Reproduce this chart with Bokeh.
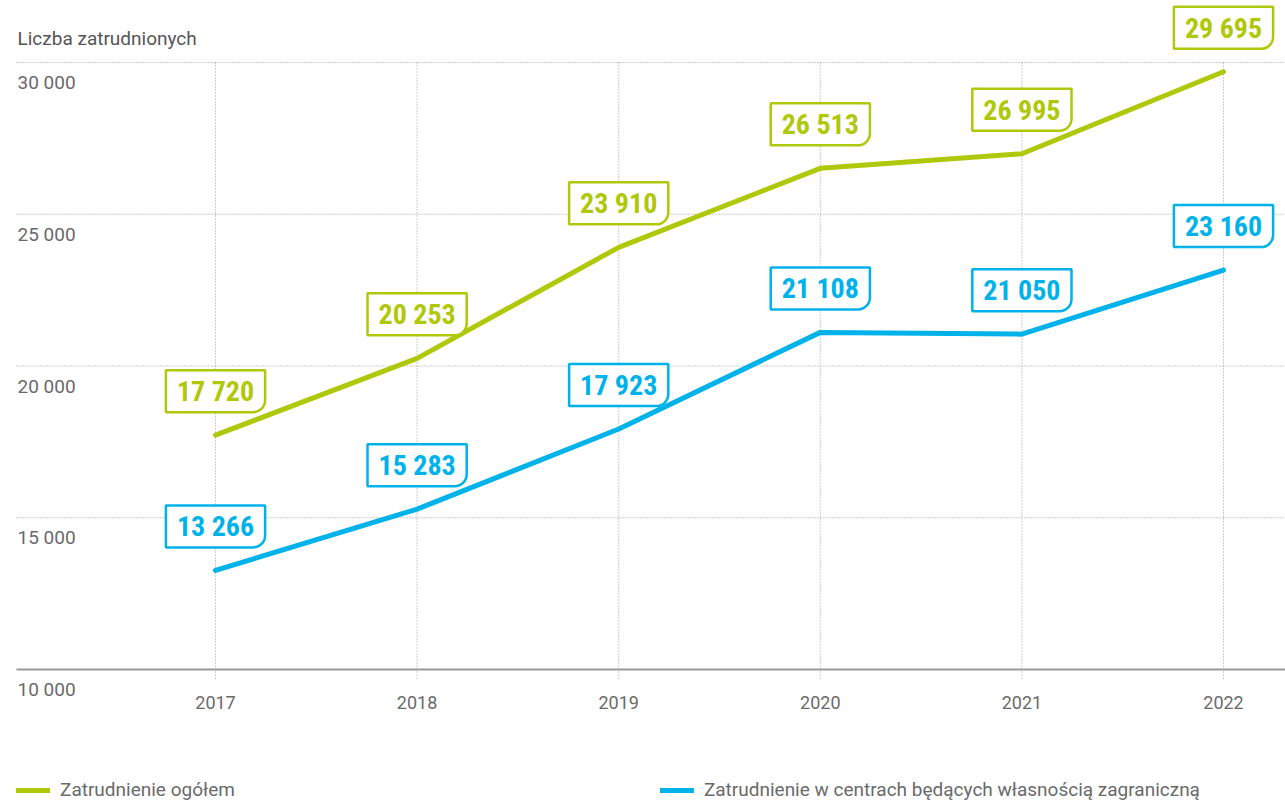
from bokeh.plotting import figure
from bokeh.models import Range1d, Legend, LegendItem, ColumnDataSource
from bokeh.core.properties import value
from bokeh.embed import file_html
from bokeh.resources import INLINE

# ---- data ----
years = [2017, 2018, 2019, 2020, 2021, 2022]
total = [17720, 20253, 23910, 26513, 26995, 29695]
foreign = [13266, 15283, 17923, 21108, 21050, 23160]
y_ticks = [10000, 15000, 20000, 25000, 30000]
y_tick_labels = ["10 000", "15 000", "20 000", "25 000", "30 000"]
x_tick_labels = ["2017", "2018", "2019", "2020", "2021", "2022"]
series_names = ["Zatrudnienie ogółem",
                "Zatrudnienie w centrach będących własnością zagraniczną"]
axis_title = "Liczba zatrudnionych"

GREEN = "#afc80a"
BLUE = "#00b2ea"
GRAY_TXT = "#6a6a6a"
GRID = "#9a9a9a"
AXIS_FONT = value("Roboto")
BOX_FONT = value("'Roboto Condensed', 'DejaVu Sans Condensed', 'Liberation Sans Narrow', sans-serif")

def fmt(v):
    return f"{v:,}".replace(",", " ")

W, H = 1285, 801
x0, x1 = 2015.9335, 2022.3075
y0, y1 = 5651, 32043

p = figure(width=W, height=H, output_backend="svg", toolbar_location=None,
           x_range=Range1d(x0, x1), y_range=Range1d(y0, y1),
           min_border=0, min_border_left=0, min_border_right=0,
           min_border_top=0, min_border_bottom=0)
p.axis.visible = False
p.grid.visible = False
p.outline_line_color = None
p.background_fill_color = "white"
p.border_fill_color = "white"

x_left = 2017 - 199 / 201.6  # left edge of the gridlines
x_right = x1

# horizontal dotted gridlines
p.segment(x0=[x_left] * 4, y0=y_ticks[1:], x1=[x_right] * 4, y1=y_ticks[1:],
          line_color=GRID, line_width=1, line_dash="1 2")
# vertical dotted gridlines
v_bottom = y_ticks[0] - 11 * 32.95
p.segment(x0=years, y0=[y_ticks[-1]] * len(years), x1=years, y1=[v_bottom] * len(years),
          line_color=GRID, line_width=1, line_dash="1 2")
# baseline axis
p.segment(x0=[x_left], y0=[y_ticks[0]], x1=[x_right], y1=[y_ticks[0]],
          line_color="#9a9a9a", line_width=2)

# y tick labels (inside, below gridlines)
p.text(x=[x_left + 0.005] * len(y_ticks), y=y_ticks, text=y_tick_labels,
       y_offset=20, text_align="left", text_baseline="middle",
       text_font=AXIS_FONT, text_font_size="19px", text_color=GRAY_TXT)
# x tick labels
p.text(x=years, y=[y_ticks[0]] * len(years), text=x_tick_labels,
       y_offset=33, text_align="center", text_baseline="middle",
       text_font=AXIS_FONT, text_font_size="18px", text_color=GRAY_TXT)
# axis title
p.text(x=[x_left + 0.005], y=[y_ticks[-1]], text=[axis_title],
       y_offset=-24, text_align="left", text_baseline="middle",
       text_font=AXIS_FONT, text_font_size="19px", text_color="#555555")

# lines
r_total = p.line(years, total, line_color=GREEN, line_width=5,
                 line_cap="round", line_join="round")
r_foreign = p.line(years, foreign, line_color=BLUE, line_width=5,
                   line_cap="round", line_join="round")

# value boxes
for vals, col in ((total, GREEN), (foreign, BLUE)):
    src = ColumnDataSource(dict(x=years, y=vals, t=[fmt(v) for v in vals]))
    p.text(x="x", y="y", text="t", source=src, y_offset=-44,
           text_align="center", text_baseline="middle",
           text_font=BOX_FONT, text_font_style="bold", text_font_size="28px",
           text_color=col,
           background_fill_color="white", border_line_color=col,
           border_line_width=2.5,
           padding=dict(left=11, right=11, top=5, bottom=4),
           border_radius=dict(top_left=0, top_right=0, bottom_right=12, bottom_left=0))

legend = Legend(items=[LegendItem(label=series_names[0], renderers=[r_total]),
                       LegendItem(label=series_names[1], renderers=[r_foreign])],
                orientation="horizontal", location=(16, 0),
                glyph_width=34, glyph_height=12, label_standoff=10, spacing=425,
                label_text_font="Roboto", label_text_font_size="19px",
                label_text_color=GRAY_TXT, padding=0, margin=0,
                border_line_color=None, background_fill_alpha=0)
p.add_layout(legend, "center")

open("out.html", "w").write(file_html(p, INLINE))
